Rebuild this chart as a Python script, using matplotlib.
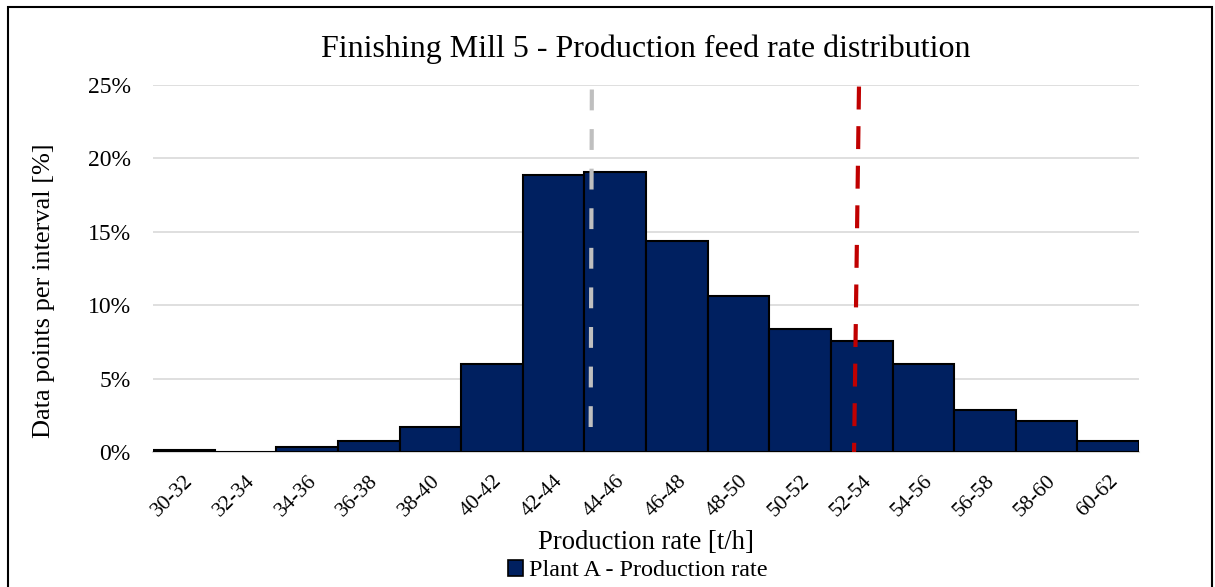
import matplotlib
matplotlib.use("Agg")
import matplotlib.pyplot as plt
from matplotlib.patches import Rectangle, Patch
from matplotlib.ticker import PercentFormatter

categories = ["30-32", "32-34", "34-36", "36-38", "38-40", "40-42", "42-44", "44-46",
              "46-48", "48-50", "50-52", "52-54", "54-56", "56-58", "58-60", "60-62"]
values = [0.15, 0.0, 0.36, 0.77, 1.7, 6.0, 18.85, 19.05,
          14.4, 10.66, 8.37, 7.55, 6.0, 2.89, 2.09, 0.75]
# reference lines (category-index positions, top & bottom)
grey_line_x = [6.62, 6.60]
grey_line_y = [24.7, 0.5]
red_line_x = [10.955, 10.875]
red_line_y = [24.9, 0.0]

plt.rcParams['font.family'] = ['Liberation Serif', 'DejaVu Serif']

fig = plt.figure(figsize=(12.15, 5.87), dpi=100)
ax = fig.add_axes([0.126, 0.23, 0.9375 - 0.126, 0.855 - 0.23])

x = list(range(len(categories)))
ax.bar(x, values, width=1.0, color='#002060', edgecolor='black', linewidth=1.5,
       label='Plant A - Production rate', zorder=3)

ax.plot(grey_line_x, grey_line_y, color='#bfbfbf', linewidth=3, linestyle=(0, (5, 4.5)), zorder=4)
ax.plot(red_line_x, red_line_y, color='#c00000', linewidth=3, linestyle=(0, (5.5, 4)), zorder=4)

ax.set_xlim(-0.5, len(categories) - 0.5)
ax.set_ylim(0, 25)
ax.set_yticks([0, 5, 10, 15, 20, 25])
ax.yaxis.set_major_formatter(PercentFormatter(decimals=0))
ax.grid(axis='y', color='#d9d9d9', linewidth=1.2, zorder=0)
ax.set_axisbelow(True)
for s in ['top', 'right', 'left']:
    ax.spines[s].set_visible(False)
ax.spines['bottom'].set_color('#d9d9d9')
ax.spines['bottom'].set_linewidth(1.5)
ax.tick_params(axis='y', length=0, labelsize=17, pad=16)
ax.tick_params(axis='x', length=0, labelsize=15.5, pad=14)
ax.set_xticks(x)
ax.set_xticklabels(categories, rotation=45, ha='right', rotation_mode='anchor')

ax.set_xlabel('Production rate [t/h]', fontsize=19.2, labelpad=7)
ax.set_ylabel('Data points per interval [%]', fontsize=19)
ax.yaxis.set_label_coords(-0.0994, 0.44)
ax.set_title('Finishing Mill 5 - Production feed rate distribution', fontsize=23, pad=20)

handle = Patch(facecolor='#002060', edgecolor='black', linewidth=1.2)
fig.legend([handle], ['Plant A - Production rate'], loc='center', bbox_to_anchor=(0.525, 0.028),
           frameon=False, fontsize=17.4, handlelength=0.65, handleheight=0.65, handletextpad=0.25)

fig.patches.append(Rectangle((8 / 1215, -0.05), (1212 - 8) / 1215, 1 - 7 / 587 + 0.05,
                             transform=fig.transFigure, fill=False, edgecolor='black',
                             linewidth=1.5))

fig.savefig('out.png', dpi=100)
